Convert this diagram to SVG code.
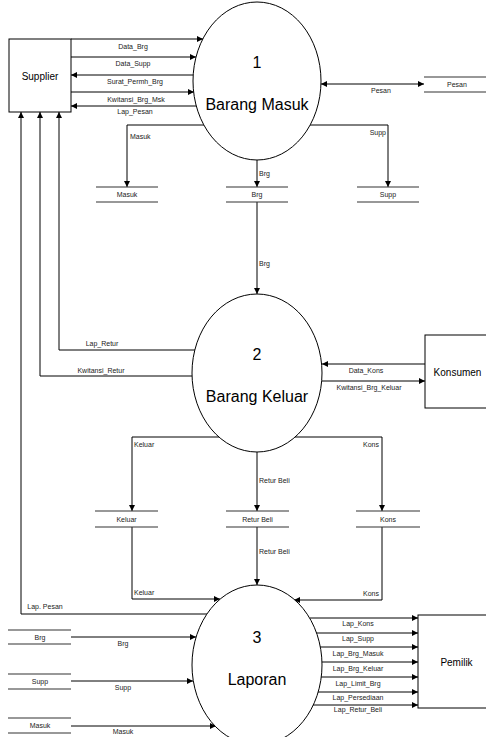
<svg xmlns="http://www.w3.org/2000/svg" width="486" height="737" viewBox="0 0 486 737">
<defs>
<marker id="ah" markerUnits="userSpaceOnUse" markerWidth="7" markerHeight="6" refX="6" refY="3" orient="auto-start-reverse"><path d="M0,0 L6,3 L0,6 z" fill="#000"/></marker>
<style>
.c{fill:none;stroke:#000;stroke-width:1;marker-end:url(#ah)}
.l{font-family:"Liberation Sans",Arial,sans-serif;font-size:7px;fill:#222}
.m{text-anchor:middle}
.e{text-anchor:end}
.ent{fill:#fff;stroke:#000;stroke-width:1}
.prc{fill:#fff;stroke:#000;stroke-width:1}
.st{stroke:#333;stroke-width:1.2;fill:none}
.t10{font-family:"Liberation Sans",Arial,sans-serif;font-size:10px;fill:#000;text-anchor:middle}
.t16{font-family:"Liberation Sans",Arial,sans-serif;font-size:16px;fill:#000;text-anchor:middle}
</style>
</defs>
<rect width="486" height="737" fill="#fff"/>
<g id="connectors">
<path class="c" d="M71,39 H203"/>
<path class="c" d="M71,57 H196"/>
<path class="c" d="M193,75 H71"/>
<path class="c" d="M71,92 H194"/>
<path class="c" d="M196,106 H71"/>
<path class="c" d="M321,84 H424" marker-start="url(#ah)"/>
<path class="c" d="M204,125 H127 V187"/>
<path class="c" d="M310,125 H388 V187"/>
<path class="c" d="M257,160 V187"/>
<path class="c" d="M257,202 V294"/>
<path class="c" d="M195,350 H59 V112"/>
<path class="c" d="M192,376 H40 V112"/>
<path class="c" d="M207,614 H21 V112"/>
<path class="c" d="M425,364 H322"/>
<path class="c" d="M322,381 H425"/>
<path class="c" d="M219,437 H132 V511"/>
<path class="c" d="M295,437 H382 V511"/>
<path class="c" d="M257,452 V511"/>
<path class="c" d="M132,527 V599 H220"/>
<path class="c" d="M257,527 V585"/>
<path class="c" d="M382,527 V600 H294"/>
<path class="c" d="M71,637 H196"/>
<path class="c" d="M71,681 H193"/>
<path class="c" d="M71,726 H216"/>
<path class="c" d="M310,618 H418"/>
<path class="c" d="M316,633 H418"/>
<path class="c" d="M320,647 H418"/>
<path class="c" d="M322,662 H418"/>
<path class="c" d="M321,677 H418"/>
<path class="c" d="M318,692 H418"/>
<path class="c" d="M313,705 H418"/>
<text class="l m" x="133" y="49">Data_Brg</text>
<text class="l m" x="133" y="66">Data_Supp</text>
<text class="l m" x="135" y="84">Surat_Permh_Brg</text>
<text class="l m" x="136" y="102">Kwitansi_Brg_Msk</text>
<text class="l m" x="135" y="114">Lap_Pesan</text>
<text class="l m" x="381" y="92.5">Pesan</text>
<text class="l" x="130" y="139">Masuk</text>
<text class="l e" x="386" y="134.5">Supp</text>
<text class="l" x="259" y="176">Brg</text>
<text class="l" x="259" y="265.5">Brg</text>
<text class="l m" x="102" y="345.5">Lap_Retur</text>
<text class="l m" x="101" y="372.5">Kwitansi_Retur</text>
<text class="l m" x="366" y="372.5">Data_Kons</text>
<text class="l m" x="369" y="389.5">Kwitansi_Brg_Keluar</text>
<text class="l" x="134" y="446.5">Keluar</text>
<text class="l e" x="379" y="446.5">Kons</text>
<text class="l" x="259" y="482.5">Retur Beli</text>
<text class="l" x="134" y="595">Keluar</text>
<text class="l" x="259" y="554">Retur Beli</text>
<text class="l e" x="379" y="596">Kons</text>
<text class="l m" x="45" y="608.5">Lap. Pesan</text>
<text class="l m" x="123" y="646">Brg</text>
<text class="l m" x="123" y="690">Supp</text>
<text class="l m" x="123" y="734">Masuk</text>
<text class="l m" x="358" y="626">Lap_Kons</text>
<text class="l m" x="358" y="641">Lap_Supp</text>
<text class="l m" x="358" y="656">Lap_Brg_Masuk</text>
<text class="l m" x="358" y="670.5">Lap_Brg_Keluar</text>
<text class="l m" x="358" y="685.5">Lap_Limit_Brg</text>
<text class="l m" x="358" y="700">Lap_Persediaan</text>
<text class="l m" x="358" y="711.5">Lap_Retur_Beli</text>
</g>
<g id="supplier"><rect class="ent" x="9" y="39" width="62" height="73"/><text class="t10" x="40" y="80">Supplier</text></g>
<g id="konsumen"><rect class="ent" x="425" y="335" width="65" height="73"/><text class="t10" x="457.5" y="376">Konsumen</text></g>
<g id="pemilik"><rect class="ent" x="418" y="615" width="77" height="93"/><text class="t10" x="456.5" y="666">Pemilik</text></g>
<g id="p1"><ellipse class="prc" cx="257" cy="81" rx="64" ry="79"/><text class="t16" x="257" y="68">1</text><text class="t16" x="257" y="110">Barang Masuk</text></g>
<g id="p2"><ellipse class="prc" cx="257" cy="373" rx="65" ry="79"/><text class="t16" x="257" y="360">2</text><text class="t16" x="257" y="402">Barang Keluar</text></g>
<g id="p3"><ellipse class="prc" cx="257" cy="665" rx="65" ry="80"/><text class="t16" x="257" y="643">3</text><text class="t16" x="257" y="685">Laporan</text></g>
<g id="ds-pesan"><path class="st" d="M424,77 H486 M424,92 H486"/><text class="l m" x="457" y="87">Pesan</text></g>
<g id="ds-masuk1"><path class="st" d="M96,187 H158 M96,202 H158"/><text class="l m" x="127" y="197">Masuk</text></g>
<g id="ds-brg1"><path class="st" d="M226,187 H288 M226,202 H288"/><text class="l m" x="257" y="197">Brg</text></g>
<g id="ds-supp1"><path class="st" d="M357,187 H419 M357,202 H419"/><text class="l m" x="388" y="197">Supp</text></g>
<g id="ds-keluar"><path class="st" d="M95,511 H158 M95,527 H158"/><text class="l m" x="126.5" y="521.5">Keluar</text></g>
<g id="ds-retur"><path class="st" d="M226,511 H289 M226,527 H289"/><text class="l m" x="257.5" y="521.5">Retur Beli</text></g>
<g id="ds-kons"><path class="st" d="M356,511 H420 M356,527 H420"/><text class="l m" x="388" y="521.5">Kons</text></g>
<g id="ds-brg2"><path class="st" d="M8,630 H71 M8,644 H71"/><text class="l m" x="40" y="639.5">Brg</text></g>
<g id="ds-supp2"><path class="st" d="M8,674 H71 M8,689 H71"/><text class="l m" x="40" y="683.5">Supp</text></g>
<g id="ds-masuk2"><path class="st" d="M8,718 H71 M8,733 H71"/><text class="l m" x="40" y="728">Masuk</text></g>
</svg>
